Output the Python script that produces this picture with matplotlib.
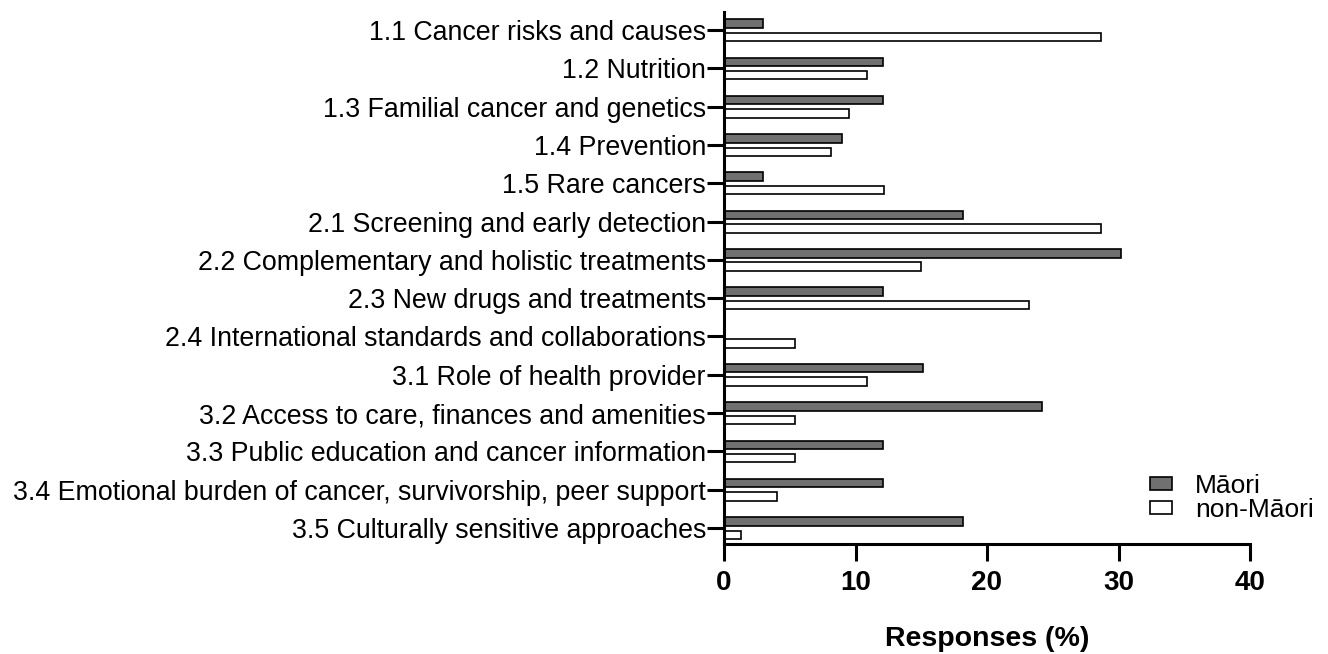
import matplotlib
matplotlib.use("Agg")
import matplotlib.pyplot as plt
import numpy as np

categories = [
    "1.1 Cancer risks and causes",
    "1.2 Nutrition",
    "1.3 Familial cancer and genetics",
    "1.4 Prevention",
    "1.5 Rare cancers",
    "2.1 Screening and early detection",
    "2.2 Complementary and holistic treatments",
    "2.3 New drugs and treatments",
    "2.4 International standards and collaborations",
    "3.1 Role of health provider",
    "3.2 Access to care, finances and amenities",
    "3.3 Public education and cancer information",
    "3.4 Emotional burden of cancer, survivorship, peer support",
    "3.5 Culturally sensitive approaches",
]
maori = [3.0, 12.1, 12.1, 9.0, 3.0, 18.2, 30.2, 12.1, 0.0, 15.1, 24.2, 12.1, 12.1, 18.2]
non_maori = [28.7, 10.9, 9.5, 8.1, 12.2, 28.7, 15.0, 23.2, 5.4, 10.9, 5.4, 5.4, 4.0, 1.3]
xticks = [0, 10, 20, 30, 40]

plt.rcParams.update({"font.family": "Liberation Sans", "font.size": 19.3})

fig = plt.figure(figsize=(13.28, 6.54), dpi=100)
ax = fig.add_axes([724 / 1328, 1 - 544 / 654, 526 / 1328, 532 / 654])

y = np.arange(len(categories))
h = 0.22
ax.barh(y - 0.17, maori, height=h, color="#707070", edgecolor="black", lw=1.2, label="Māori")
ax.barh(y + 0.18, non_maori, height=h, color="white", edgecolor="black", lw=1.2, label="non-Māori")

ax.set_ylim(len(categories) - 1 + 0.42, -0.47)
ax.set_xlim(0, 40)
ax.set_yticks(y)
ax.set_yticklabels(categories)
ax.set_xticks(xticks)
ax.set_xticklabels([str(t) for t in xticks], fontweight="bold", fontsize=20)
ax.set_xlabel("Responses (%)", fontweight="bold", fontsize=20.5, labelpad=21)

for s in ["top", "right"]:
    ax.spines[s].set_visible(False)
for s in ["left", "bottom"]:
    ax.spines[s].set_linewidth(2.2)
ax.tick_params(axis="y", length=12, width=2.2, pad=1)
ax.tick_params(axis="x", length=12, width=2.2, pad=7)

ax.legend(loc="upper left", bbox_to_anchor=(1150 / 1328, 1 - 474 / 654), bbox_transform=fig.transFigure,
          frameon=False, fontsize=19, handlelength=0.85, handleheight=0.4, handletextpad=0.85,
          labelspacing=0.0, borderaxespad=0, borderpad=0)

fig.savefig("out.png", dpi=100)
